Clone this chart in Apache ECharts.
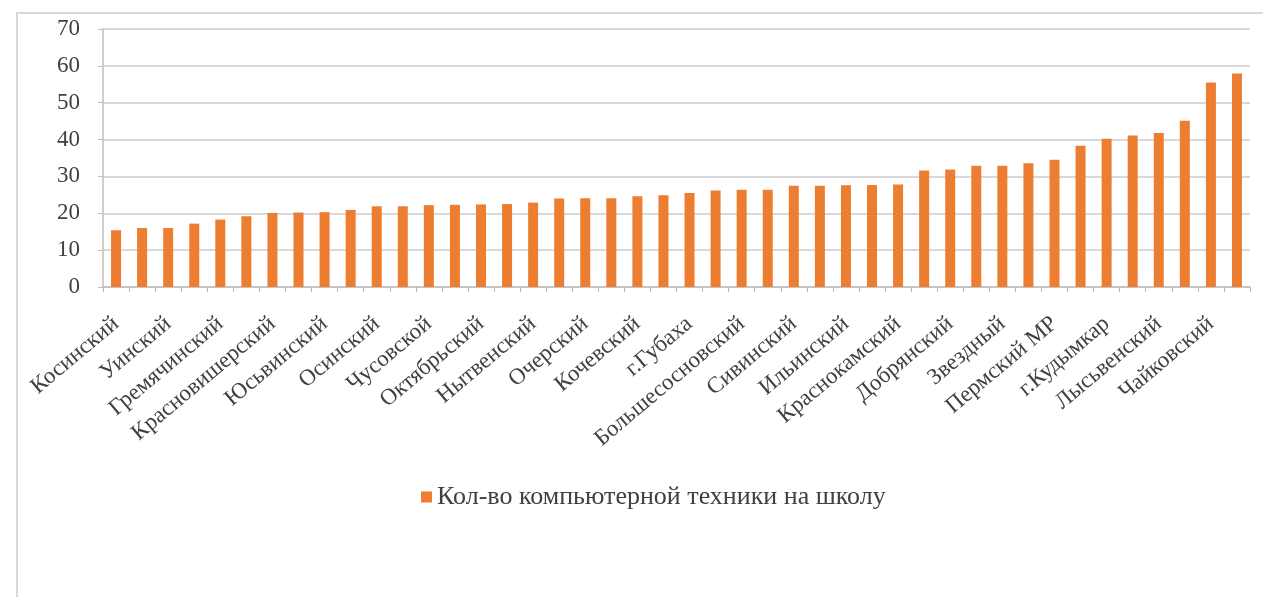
<!DOCTYPE html>
<html>
<head>
<meta charset="utf-8">
<script src="https://cdn.jsdelivr.net/npm/echarts@6/dist/echarts.min.js"></script>
<style>
  html, body { margin: 0; padding: 0; background: #fff; }
  #wrap { position: relative; width: 1263px; height: 597px; overflow: hidden; }
  #frame { position: absolute; left: 16px; top: 12px; right: -5px; bottom: -5px;
           border-left: 2px solid #d9d9d9; border-top: 2px solid #d9d9d9; }
  #chart { position: absolute; left: 0; top: 0; width: 1263px; height: 597px; }
</style>
</head>
<body>
<div id="wrap">
  <div id="frame"></div>
  <div id="chart"></div>
</div>
<script>
// районы (подписаны только через один, как на исходной диаграмме)
const districts = [
  "Косинский", "", "Уинский", "", "Гремячинский", "", "Красновишерский", "",
  "Юсьвинский", "", "Осинский", "", "Чусовской", "", "Октябрьский", "",
  "Нытвенский", "", "Очерский", "", "Кочевский", "", "г.Губаха", "",
  "Большесосновский", "", "Сивинский", "", "Ильинский", "", "Краснокамский", "",
  "Добрянский", "", "Звездный", "", "Пермский МР", "", "г.Кудымкар", "",
  "Лысьвенский", "", "Чайковский", ""
];

// кол-во компьютерной техники на школу
const computersPerSchool = [
  15.4, 16.0, 16.0, 17.2, 18.3, 19.2, 20.1, 20.2,
  20.3, 20.9, 21.9, 21.9, 22.2, 22.3, 22.4, 22.5,
  22.9, 24.0, 24.1, 24.1, 24.6, 24.9, 25.5, 26.2,
  26.4, 26.4, 27.5, 27.5, 27.6, 27.7, 27.8, 31.6,
  31.9, 32.9, 32.9, 33.6, 34.5, 38.3, 40.2, 41.1,
  41.8, 45.1, 55.5, 57.9
];

const seriesName = "Кол-во компьютерной техники на школу";
const yTicks = [0, 10, 20, 30, 40, 50, 60, 70];

const font = "'Liberation Serif', 'Times New Roman', serif";
const textColor = "#404040";

const myChart = echarts.init(document.getElementById("chart"));

const options = {
  animation: false,
  grid: {
    left: 103,
    right: 13,
    top: 29,
    bottom: 310,
  },
  legend: {
    left: 416,
    top: 479,
    itemWidth: 11,
    itemHeight: 11,
    itemGap: 6,
    icon: "rect",
    textStyle: {
      fontFamily: font,
      fontSize: 26,
      color: textColor,
    },
    data: [seriesName],
  },
  xAxis: {
    type: "category",
    data: districts,
    axisLine: { show: true, lineStyle: { color: "#bfbfbf", width: 1.5 } },
    axisTick: { show: true, interval: 0, length: 5, lineStyle: { color: "#a6b8d0" } },
    axisLabel: {
      interval: 0,
      rotate: 40,
      margin: 34,
      fontFamily: font,
      fontSize: 23,
      color: textColor,
    },
  },
  yAxis: {
    type: "value",
    min: yTicks[0],
    max: yTicks[yTicks.length - 1],
    interval: 10,
    axisLine: { show: true, lineStyle: { color: "#bfbfbf", width: 1.5 } },
    axisTick: { show: true, length: 5, lineStyle: { color: "#bfbfbf" } },
    axisLabel: {
      margin: 23,
      fontFamily: font,
      fontSize: 23,
      color: textColor,
    },
    splitLine: { show: true, lineStyle: { color: "#d9d9d9", width: 2 } },
  },
  series: [
    {
      name: seriesName,
      type: "bar",
      data: computersPerSchool,
      barWidth: 10,
      itemStyle: { color: "#ED7D31" },
    },
  ],
};

myChart.setOption(options);
</script>
</body>
</html>
